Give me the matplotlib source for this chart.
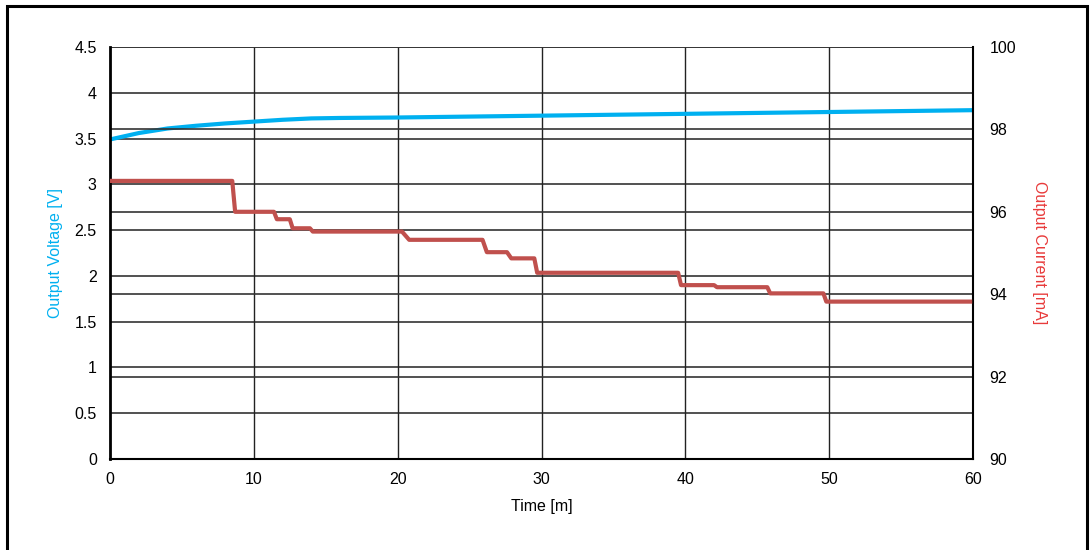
import numpy as np
import matplotlib
matplotlib.use("Agg")
import matplotlib.pyplot as plt
from matplotlib.patches import Rectangle

plt.rcParams['font.family'] = ['Liberation Sans', 'DejaVu Sans']

# output voltage (left axis)
volt_t = [0, 2, 4, 6, 8, 10, 12, 14, 16, 20, 30, 40, 50, 60]
volt_v = [3.49, 3.56, 3.61, 3.64, 3.665, 3.685, 3.705, 3.72, 3.725, 3.73, 3.75, 3.77, 3.79, 3.81]

# output current (right axis), stepped
cur_t = [0, 8.5, 8.7, 11.4, 11.6, 12.5, 12.7, 13.9, 14.1, 20.3, 20.8, 25.9, 26.2, 27.6, 27.9,
         29.5, 29.7, 39.5, 39.7, 42.0, 42.2, 45.7, 45.9, 49.6, 49.8, 59.8]
cur_i = [96.75, 96.75, 96.0, 96.0, 95.82, 95.82, 95.6, 95.6, 95.52, 95.52, 95.32, 95.32, 95.02,
         95.02, 94.87, 94.87, 94.52, 94.52, 94.22, 94.22, 94.17, 94.17, 94.02, 94.02, 93.82, 93.82]

fig = plt.figure(figsize=(10.92, 5.5), dpi=100)
ax = fig.add_axes([110/1092, 1-459/550, (973-110)/1092, (459-47)/550])
ax2 = ax.twinx()

# horizontal grid for both axes, vertical grid for time
for y in np.arange(0, 4.51, 0.5):
    ax.axhline(y, color='#333333', lw=1.2, zorder=1)
for y in np.arange(90, 100.1, 2):
    ax2.axhline(y, color='#333333', lw=1.2, zorder=1)
for x in range(10, 60, 10):
    ax.axvline(x, color='#222222', lw=1.0, zorder=1)

ax.plot(volt_t, volt_v, color='#00B0F0', lw=3, zorder=3, solid_capstyle='butt')
ax2.plot(cur_t, cur_i, color='#C0504D', lw=3, zorder=3)

ax.set_xlim(0, 60)
ax.set_ylim(0, 4.5)
ax2.set_ylim(90, 100)
ax.set_xticks(range(0, 61, 10))
ax.set_yticks(np.arange(0, 4.51, 0.5))
ax.set_yticklabels(['0', '0.5', '1', '1.5', '2', '2.5', '3', '3.5', '4', '4.5'])
ax2.set_yticks(range(90, 101, 2))

for a in (ax, ax2):
    a.tick_params(length=0, labelsize=11.5, colors='black')
    for s in a.spines.values():
        s.set_visible(False)
ax.tick_params(axis='x', pad=9)
ax.tick_params(axis='y', pad=9.5)
ax2.tick_params(axis='y', pad=12)

ax2.spines['left'].set_visible(True)
ax2.spines['left'].set_linewidth(2)
ax2.spines['bottom'].set_visible(True)
ax2.spines['bottom'].set_linewidth(1.5)
ax2.spines['right'].set_visible(True)
ax2.spines['right'].set_linewidth(1.5)

ax.set_xlabel('Time [m]', fontsize=11.5, labelpad=9)
ax.set_ylabel('Output Voltage [V]', fontsize=11.5, color='#00B0F0', labelpad=8)
ax2.set_ylabel('Output Current [mA]', fontsize=11.5, color='#E83A3A', rotation=270, labelpad=22)

# outer frame
fig.patches.append(Rectangle((7/1092, -0.05), 1080/1092, 1.05 - 6/550, transform=fig.transFigure,
                             fill=False, edgecolor='black', lw=2.2))

fig.savefig('out.png', dpi=100)
